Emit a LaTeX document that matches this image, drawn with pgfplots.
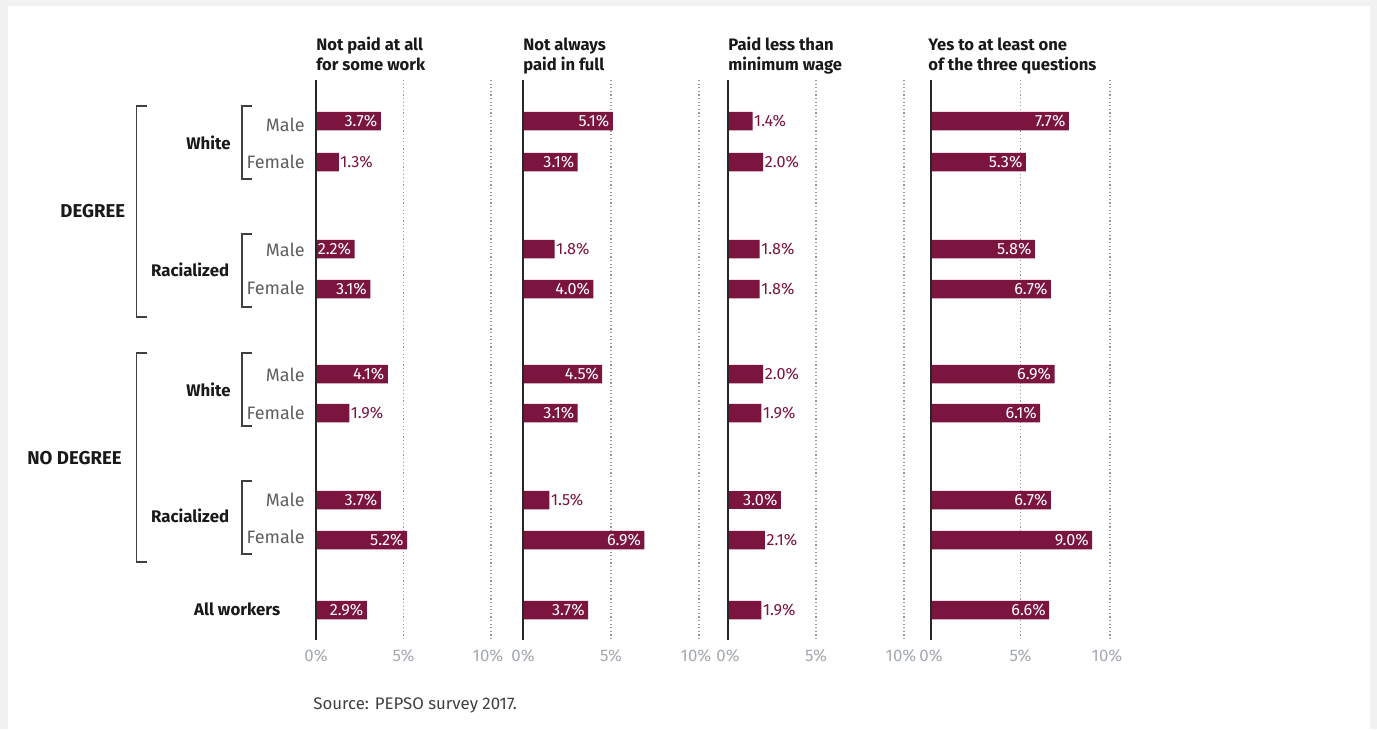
\documentclass[border=0pt]{standalone}
\usepackage{fontspec}
\setmainfont{Fira Sans}
\usepackage{pgfplots}
\pgfplotsset{compat=1.18}
\usepackage{pgfplotstable}
\definecolor{barc}{RGB}{123,20,62}
\definecolor{tickg}{RGB}{165,170,176}
\definecolor{labg}{RGB}{95,95,95}
\definecolor{bgc}{RGB}{241,241,241}

% out = 1: value written beside the bar; out = 0: written inside it
\pgfplotstableread{
y val out
121 3.7 0
162 1.3 1
249 2.2 0
289 3.1 0
374 4.1 0
413 1.9 1
500 3.7 0
540 5.2 0
610 2.9 0
}\tA
\pgfplotstableread{
y val out
121 5.1 0
162 3.1 0
249 1.8 1
289 4.0 0
374 4.5 0
413 3.1 0
500 1.5 1
540 6.9 0
610 3.7 0
}\tB
\pgfplotstableread{
y val out
121 1.4 1
162 2.0 1
249 1.8 1
289 1.8 1
374 2.0 1
413 1.9 1
500 3.0 0
540 2.1 1
610 1.9 1
}\tC
\pgfplotstableread{
y val out
121 7.7 0
162 5.3 0
249 5.8 0
289 6.7 0
374 6.9 0
413 6.1 0
500 6.7 0
540 9.0 0
610 6.6 0
}\tD

\pgfplotsset{
  panel/.style={scale only axis, height=280pt, xmin=0, xmax=10, ymin=80, ymax=640,
    y dir=reverse, anchor=north west, clip=false,
    axis line style={draw=none}, tick style={draw=none}, ytick=\empty,
    xtick={0,5,10}, xticklabels={0\%,5\%,{10\%\hspace*{3pt}}}, xmajorgrids,
    grid style={dash pattern=on 0.6pt off 1.2pt, color=black!40, line width=0.6pt},
    xticklabel style={font=\fontsize{8.4}{10}\selectfont, text=tickg, yshift=-1pt},
    /pgf/number format/assume math mode=true},
  bars/.style={xbar, bar width=9.25pt, bar shift=0pt, fill=barc, draw=none, point meta=x,
    nodes near coords={\pgfmathprintnumber[fixed,fixed zerofill,precision=1]{\pgfplotspointmeta}\%}},
  inlab/.style={bars, x filter/.expression={\thisrow{out}==0 ? x : nan},
    every node near coord/.append style={anchor=east, text=white, xshift=-1.5pt,
      inner sep=0pt, font=\fontsize{8.1}{9}\selectfont}},
  outlab/.style={bars, x filter/.expression={\thisrow{out}==1 ? x : nan},
    every node near coord/.append style={anchor=west, text=barc, xshift=0.6pt,
      inner sep=0pt, font=\fontsize{8.1}{9}\selectfont}}
}

\begin{document}
\begin{tikzpicture}[x=0.5pt, y=-0.5pt]
\useasboundingbox (0,0) rectangle (1377,729);
\fill[bgc] (0,0) rectangle (1377,729);
\fill[white] (8,6) rectangle (1370,729);
\coordinate (pA) at (316,80);
\coordinate (pB) at (523,80);
\coordinate (pC) at (728,80);
\coordinate (pD) at (931,80);

\begin{axis}[panel, at={(pA)}, width=87.5pt]
\addplot[inlab] table[x=val, y=y] {\tA};
\addplot[outlab] table[x=val, y=y] {\tA};
\draw[line width=1.1pt, black!85] (axis cs:0,80) -- (axis cs:0,640);
\end{axis}
\begin{axis}[panel, at={(pB)}, width=88pt]
\addplot[inlab] table[x=val, y=y] {\tB};
\addplot[outlab] table[x=val, y=y] {\tB};
\draw[line width=1.1pt, black!85] (axis cs:0,80) -- (axis cs:0,640);
\end{axis}
\begin{axis}[panel, at={(pC)}, width=88pt]
\addplot[inlab] table[x=val, y=y] {\tC};
\addplot[outlab] table[x=val, y=y] {\tC};
\draw[line width=1.1pt, black!85] (axis cs:0,80) -- (axis cs:0,640);
\end{axis}
\begin{axis}[panel, at={(pD)}, width=89.5pt]
\addplot[inlab] table[x=val, y=y] {\tD};
\draw[line width=1.1pt, black!85] (axis cs:0,80) -- (axis cs:0,640);
\end{axis}

\tikzset{ttl/.style={anchor=base west, inner sep=0pt, font=\bfseries\fontsize{8.3}{10}\selectfont, text=black!90}}
\node[ttl] at (316,50) {Not paid at all};
\node[ttl] at (316,70) {for some work};
\node[ttl] at (523,50) {Not always};
\node[ttl] at (523,70) {paid in full};
\node[ttl] at (728,50) {Paid less than};
\node[ttl] at (728,70) {minimum wage};
\node[ttl] at (928,50) {Yes to at least one};
\node[ttl] at (928,70) {of the three questions};

\tikzset{sx/.style={anchor=base east, inner sep=0pt, font=\fontsize{9}{10}\selectfont, text=labg},
         bl/.style={anchor=base east, inner sep=0pt, font=\bfseries\fontsize{8.4}{10}\selectfont, text=black!90},
         bc/.style={anchor=base east, inner sep=0pt, font=\bfseries\fontsize{9.3}{10}\selectfont, text=black!90}}
\node[sx] at (305,131.5) {Male};
\node[sx] at (305,168.5) {Female};
\node[sx] at (305,256.5) {Male};
\node[sx] at (305,294.5) {Female};
\node[sx] at (305,381.5) {Male};
\node[sx] at (305,419.5) {Female};
\node[sx] at (305,506.5) {Male};
\node[sx] at (305,543.5) {Female};

\node[bl] at (231,149.5) {White};
\node[bl] at (229.5,276) {Racialized};
\node[bc] at (125.5,217) {DEGREE};
\node[bl] at (231,396) {White};
\node[bl] at (229.5,522.5) {Racialized};
\node[bc] at (122,464.5) {NO DEGREE};
\node[bl] at (280.5,615.5) {All workers};

\begin{scope}[line width=0.6pt, black!75]
\draw (252,106) -- (242,106) -- (242,179) -- (252,179);
\draw (252,234) -- (242,234) -- (242,307) -- (252,307);
\draw (146.7,106) -- (136.7,106) -- (136.7,317) -- (146.7,317);
\draw (252,353) -- (242,353) -- (242,426) -- (252,426);
\draw (252,481) -- (242,481) -- (242,554) -- (252,554);
\draw (146.7,353) -- (136.7,353) -- (136.7,562) -- (146.7,562);
\end{scope}

\node[anchor=base west, inner sep=0pt, font=\fontsize{8.4}{10}\selectfont, text=black!75] at (313,709.5) {Source: PEPSO survey 2017.};
\end{tikzpicture}
\end{document}
